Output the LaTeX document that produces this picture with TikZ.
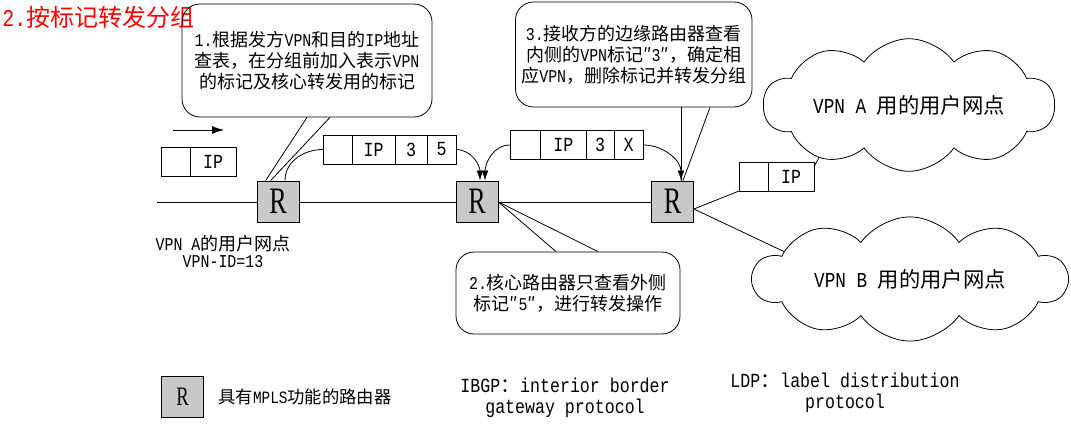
\documentclass[tikz,border=0pt]{standalone}
\usepackage{fontspec}
\setmainfont{Liberation Mono}[FakeStretch=0.83]
\newfontfamily\cjk{Noto Sans CJK SC}
\newfontfamily\rfont{Liberation Serif}[FakeStretch=0.7]
\usetikzlibrary{positioning,calc,arrows.meta,shapes.symbols}
\definecolor{routergray}{RGB}{200,200,200}
\newcommand\px{*0.75pt}
\newcommand\zh[1]{{\cjk #1}}

\tikzset{
  router/.style={draw, fill=routergray, minimum width=42\px, minimum height=41\px,
    inner sep=0pt, font=\rfont\fontsize{28}{28}\selectfont},
  cell/.style={draw, minimum height=29\px, inner sep=0pt, outer sep=0pt,
    font=\fontsize{15}{15}\selectfont},
  callout/.style={draw, rounded corners=18\px, align=center, inner sep=0pt,
    font=\fontsize{13.5}{15.75}\selectfont},
  site/.style={draw, fill=white, cloud, cloud puffs=10, cloud puff arc=110, inner sep=0pt,
    font=\fontsize{16}{16}\selectfont},
  flow/.style={-{Latex[length=7.5pt,width=5pt]}},
}

\begin{document}
\begin{tikzpicture}[x=0.75pt, y=-0.75pt, line width=0.6pt]
\useasboundingbox (0,0) rectangle (1071,434);

% Marking title
\node[anchor=west, inner sep=0pt, text=red, font=\fontsize{18}{18}\selectfont] (title) at (2,17.5) {2.\zh{按标记转发分组}};

% Drawing routers R1 R2 R3
\node[router] (r1) at (278,201.5) {R};
\node[router] (r2) at (477,201.5) {R};
\node[router] (r3) at (672.5,201.5) {R};

% Drawing line through routers
\coordinate (lstart) at (157,202);
\draw (lstart) -- (lstart -| r1.west);
\draw (lstart -| r1.east) -- (lstart -| r2.west);
\draw (lstart -| r2.east) -- (lstart -| r3.west);

% Drawing packet before R1
\node[cell, minimum width=29\px] (p1a) at (175.5,161.5) {};
\node[cell, minimum width=46\px, right=0pt of p1a] (p1b) {IP};
\coordinate (dirs) at (173,130);
\coordinate (dire) at (224,130);
\draw[-{Latex[length=9pt,width=6pt]}] (dirs) -- (dire);

% Drawing packet R1 -> R2
\node[cell, minimum width=29\px] (p2a) at (337.5,149.5) {};
\node[cell, minimum width=43\px, right=0pt of p2a] (p2b) {IP};
\node[cell, minimum width=32\px, right=0pt of p2b] (p2c) {3};
\node[cell, minimum width=29\px, right=0pt of p2c] (p2d) {5};
\draw (p2a.west) to[out=180,in=90] ($(r1.north)+(7,0)$);
\draw[flow] (p2d.east) to[out=0,in=90] ($(r2.north)+(3,0)$);

% Drawing packet R2 -> R3
\node[cell, minimum width=30.5\px] (p3a) at (525.25,145) {};
\node[cell, minimum width=45.5\px, right=0pt of p3a] (p3b) {IP};
\node[cell, minimum width=28\px, right=0pt of p3b] (p3c) {3};
\node[cell, minimum width=29\px, right=0pt of p3c] (p3d) {X};
\draw[flow] (p3a.west) to[out=180,in=90] ($(r2.north)+(8,0)$);
\draw[flow] (p3d.east) to[out=0,in=90] ($(r3.north)+(8.5,0)$);

% Drawing packet after R3
\node[cell, minimum width=29\px] (p4a) at (753.5,176.5) {};
\node[cell, minimum width=46\px, right=0pt of p4a] (p4b) {IP};

% Drawing callout 1
\node[callout, minimum width=250\px, minimum height=113\px] (b1) at (307,60.5)
  {1.\zh{根据发方}VPN\zh{和目的}IP\zh{地址}\\\zh{查表，在分组前加入表示}VPN\\\zh{的标记及核心转发用的标记}};
\draw (b1.south) -- ($(r1.north west)+(9,0)$);
\draw ($(b1.south)+(23,0)$) -- ($(r1.north west)+(14,0)$);

% Drawing callout 2
\node[callout, minimum width=224\px, minimum height=82\px] (b2) at (568,293)
  {2.\zh{核心路由器只查看外侧}\\\zh{标记″}5\zh{″，进行转发操作}};
\draw ($(r2.east)+(0,0.5)$) -- ($(b2.north)+(-12,0)$);
\draw ($(r2.east)+(0,0.5)$) -- ($(b2.north)+(30,0)$);

% Drawing callout 3
\node[callout, minimum width=236.5\px, minimum height=105\px] (b3) at (633.75,54.5)
  {3.\zh{接收方的边缘路由器查看}\\\zh{内侧的}VPN\zh{标记″}3\zh{″，确定相}\\\zh{应}VPN\zh{，删除标记并转发分组}};
\draw ($(b3.south)+(47.25,0)$) -- ($(r3.north)+(8.5,0)$);
\draw ($(b3.south)+(76.25,0)$) -- ($(r3.north)+(10.5,0)$);

% Drawing links to user sites (clouds drawn over their ends)
\coordinate (caend) at (834,128);
\coordinate (cbend) at (806,262);
\draw ($(p4b.north east)+(0,5)$) -- (caend);
\draw ($(r3.east)+(0,7.5)$) -- (p4a.south west);
\draw ($(r3.east)+(0,7.5)$) -- (cbend);

% Drawing user sites
\node[site, aspect=2.9, minimum width=291\px, minimum height=100\px] (ca) at (909,105) {VPN A \zh{用的用户网点}};
\node[site, aspect=3.2, minimum width=314\px, minimum height=98\px] (cb) at (910,279) {VPN B \zh{用的用户网点}};

% Marking site of VPN A
\node[align=center, inner sep=0pt, font=\fontsize{13.5}{12.75}\selectfont] (sitea) at (223,251.5)
  {VPN A\zh{的用户网点}\\VPN-ID=13};

% Drawing legend
\node[router, font=\rfont\fontsize{20}{20}\selectfont] (key) at (182.5,397) {R};
\node[anchor=west, inner sep=0pt, font=\fontsize{13}{13}\selectfont] (keytext) at (218,397) {\zh{具有}MPLS\zh{功能的路由器}};
\node[align=center, inner sep=0pt, font=\fontsize{15}{15.5}\selectfont] (ibgp) at (565,398)
  {IBGP\zh{：}interior border\\gateway protocol};
\node[align=center, inner sep=0pt, font=\fontsize{15}{15.5}\selectfont] (ldp) at (845,393)
  {LDP\zh{：}label distribution\\protocol};
\end{tikzpicture}
\end{document}
